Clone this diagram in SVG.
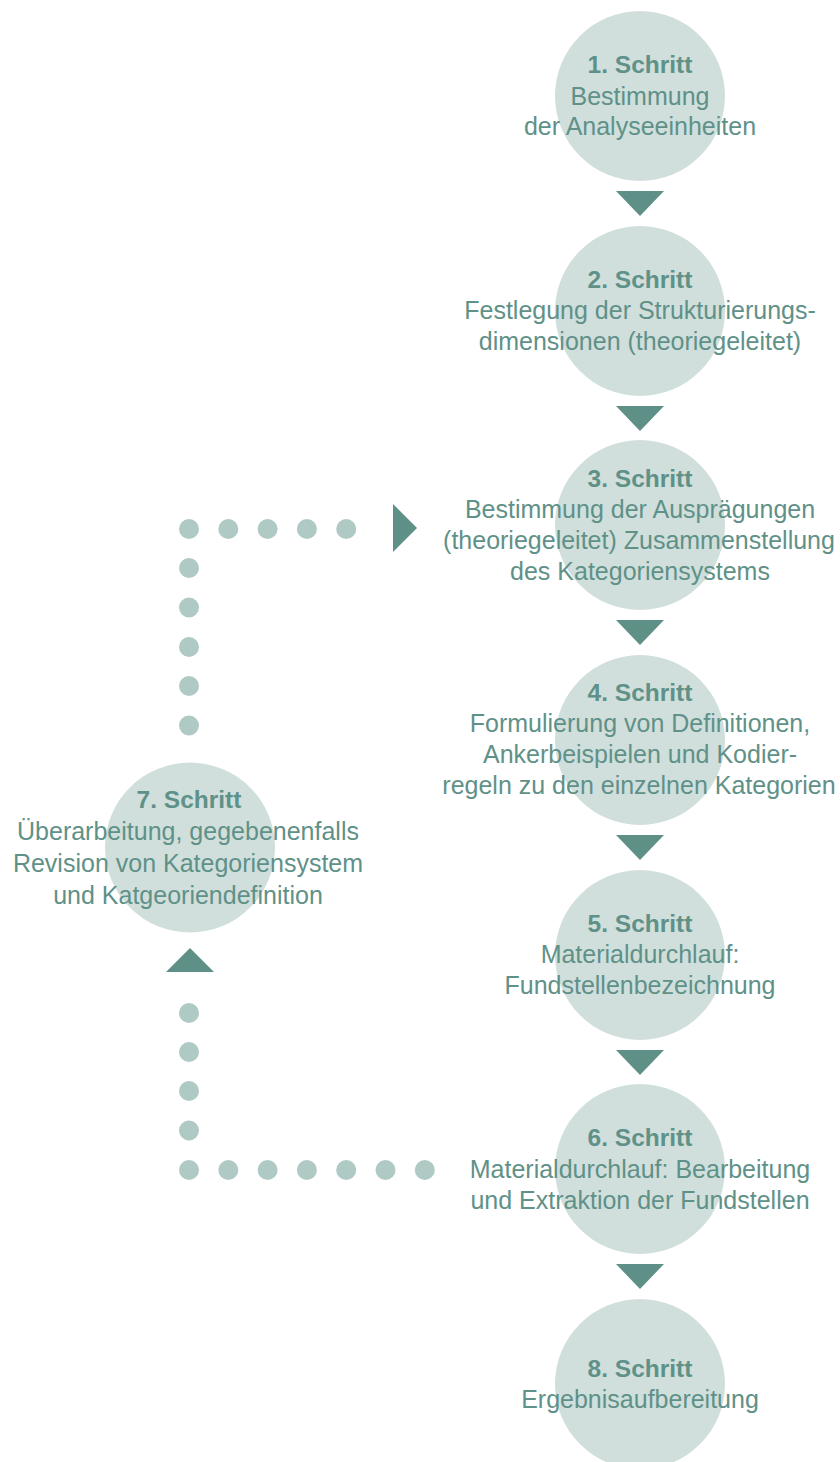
<svg xmlns="http://www.w3.org/2000/svg" width="840" height="1462" viewBox="0 0 840 1462">
<style>
.c{fill:#d0dfdc}
.t{font-family:"Liberation Sans",Arial,sans-serif;font-size:25px;fill:#5f9188;text-anchor:middle}
.b{font-weight:bold;font-size:24.5px}
.a{fill:#5f9087}
.d{fill:#afc9c4}
</style>
<rect width="840" height="1462" fill="#ffffff"/>
<g id="connectors">
<polygon class="a" points="616,191 664,191 640,216"/>
<polygon class="a" points="616,406 664,406 640,431"/>
<polygon class="a" points="616,620 664,620 640,645"/>
<polygon class="a" points="616,835 664,835 640,860"/>
<polygon class="a" points="616,1050 664,1050 640,1075"/>
<polygon class="a" points="616,1264 664,1264 640,1289"/>
<polygon class="a" points="393,504 417,528 393,552"/>
<polygon class="a" points="166,972 214,972 190,948"/>
<g id="dots-top">
<circle class="d" cx="189" cy="529" r="10"/>
<circle class="d" cx="228.3" cy="529" r="10"/>
<circle class="d" cx="267.6" cy="529" r="10"/>
<circle class="d" cx="306.9" cy="529" r="10"/>
<circle class="d" cx="346.2" cy="529" r="10"/>
<circle class="d" cx="189" cy="568" r="10"/>
<circle class="d" cx="189" cy="607.5" r="10"/>
<circle class="d" cx="189" cy="647" r="10"/>
<circle class="d" cx="189" cy="686" r="10"/>
<circle class="d" cx="189" cy="725.5" r="10"/>
</g>
<g id="dots-bottom">
<circle class="d" cx="189" cy="1013" r="10"/>
<circle class="d" cx="189" cy="1052" r="10"/>
<circle class="d" cx="189" cy="1091" r="10"/>
<circle class="d" cx="189" cy="1130.5" r="10"/>
<circle class="d" cx="189" cy="1170" r="10"/>
<circle class="d" cx="228.3" cy="1170" r="10"/>
<circle class="d" cx="267.6" cy="1170" r="10"/>
<circle class="d" cx="306.9" cy="1170" r="10"/>
<circle class="d" cx="346.2" cy="1170" r="10"/>
<circle class="d" cx="385.5" cy="1170" r="10"/>
<circle class="d" cx="424.8" cy="1170" r="10"/>
</g>
</g>
<g id="step1">
<circle class="c" cx="640" cy="96" r="85"/>
<text class="t b" x="640" y="73">1. Schritt</text>
<text class="t" x="640" y="105">Bestimmung</text>
<text class="t" x="640" y="135">der Analyseeinheiten</text>
</g>
<g id="step2">
<circle class="c" cx="640" cy="311" r="85"/>
<text class="t b" x="640" y="288">2. Schritt</text>
<text class="t" x="640" y="319">Festlegung der Strukturierungs-</text>
<text class="t" x="640" y="350">dimensionen (theoriegeleitet)</text>
</g>
<g id="step3">
<circle class="c" cx="640" cy="525" r="85"/>
<text class="t b" x="640" y="487">3. Schritt</text>
<text class="t" x="640" y="518">Bestimmung der Ausprägungen</text>
<text class="t" x="639" y="549">(theoriegeleitet) Zusammenstellung</text>
<text class="t" x="640" y="580">des Kategoriensystems</text>
</g>
<g id="step4">
<circle class="c" cx="640" cy="740" r="85"/>
<text class="t b" x="640" y="701">4. Schritt</text>
<text class="t" x="640" y="732">Formulierung von Definitionen,</text>
<text class="t" x="640" y="763">Ankerbeispielen und Kodier-</text>
<text class="t" x="639" y="794">regeln zu den einzelnen Kategorien</text>
</g>
<g id="step5">
<circle class="c" cx="640" cy="955" r="85"/>
<text class="t b" x="640" y="932">5. Schritt</text>
<text class="t" x="640" y="963">Materialdurchlauf:</text>
<text class="t" x="640" y="994">Fundstellenbezeichnung</text>
</g>
<g id="step6">
<circle class="c" cx="640" cy="1169" r="85"/>
<text class="t b" x="640" y="1146">6. Schritt</text>
<text class="t" x="640" y="1178">Materialdurchlauf: Bearbeitung</text>
<text class="t" x="640" y="1209">und Extraktion der Fundstellen</text>
</g>
<g id="step7">
<circle class="c" cx="190" cy="847.5" r="85"/>
<text class="t b" x="189" y="808">7. Schritt</text>
<text class="t" x="188" y="840">Überarbeitung, gegebenenfalls</text>
<text class="t" x="188" y="872">Revision von Kategoriensystem</text>
<text class="t" x="188" y="904">und Katgeoriendefinition</text>
</g>
<g id="step8">
<circle class="c" cx="640" cy="1384" r="85"/>
<text class="t b" x="640" y="1377">8. Schritt</text>
<text class="t" x="640" y="1408">Ergebnisaufbereitung</text>
</g>
</svg>
